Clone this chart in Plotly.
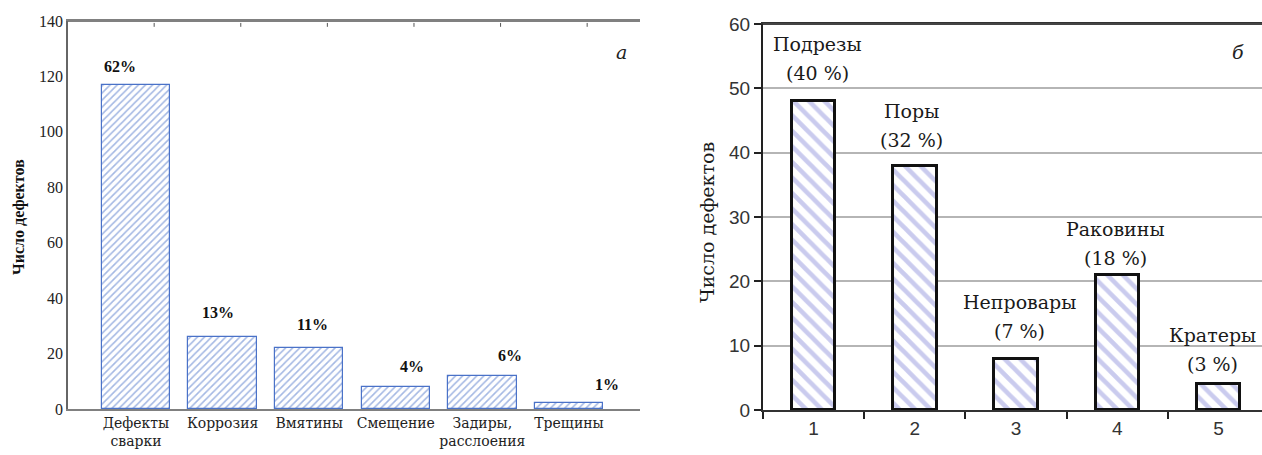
import plotly.graph_objects as go

# ---- Data: left chart (а) ----
cats_a = ["Дефекты<br>сварки", "Коррозия", "Вмятины", "Смещение", "Задиры,<br>расслоения", "Трещины"]
vals_a = [117, 26, 22, 8, 12, 2]
pct_a = ["62%", "13%", "11%", "4%", "6%", "1%"]

# ---- Data: right chart (б) ----
cats_b = ["1", "2", "3", "4", "5"]
vals_b = [48, 38, 8, 21, 4]
names_b = ["Подрезы", "Поры", "Непровары", "Раковины", "Кратеры"]
pct_b = ["(40 %)", "(32 %)", "(7 %)", "(18 %)", "(3 %)"]

# ---- label styling offsets (pixels) ----
dx_a = [-16, -5, 3, 16, 28, 38]
dy_a = [18, 24, 24, 20, 20, 19]
dx_b = [4, -3, 3, -2, -6]
dy_b = [28, 26, 28, 17, 20]

SERIF = "DejaVu Serif"
TIMES = "Liberation Serif"
SANS = "Liberation Sans"
BLUE = "#4a72c8"

W, H = 1262, 455
A_DOM_X = [68 / W, 640 / W]
A_DOM_Y = [46 / H, 434 / H]
B_DOM_X = [763 / W, 1.0]
B_DOM_Y = [45 / H, 431 / H]

fig = go.Figure()

fig.add_trace(go.Bar(
    x=list(range(len(vals_a))), y=vals_a, width=0.79,
    marker=dict(color="white", line=dict(color=BLUE, width=1.2),
                pattern=dict(shape="/", fgcolor=BLUE, bgcolor="white", size=5, solidity=0.32)),
    xaxis="x", yaxis="y", showlegend=False, hoverinfo="skip"))

fig.add_trace(go.Bar(
    x=cats_b, y=vals_b, width=0.43,
    marker=dict(color="white", line=dict(color="#111111", width=3),
                pattern=dict(shape="\\", fgcolor="#9598de", bgcolor="white", size=11, solidity=0.42)),
    xaxis="x2", yaxis="y2", showlegend=False, hoverinfo="skip"))

annotations = []
for i, (v, p) in enumerate(zip(vals_a, pct_a)):
    annotations.append(dict(x=i, y=v, xref="x", yref="y", text="<b>%s</b>" % p, showarrow=False,
                            xshift=dx_a[i], yshift=dy_a[i], xanchor="center", yanchor="middle",
                            font=dict(family=TIMES, size=16, color="#111")))
for i, (v, n, p) in enumerate(zip(vals_b, names_b, pct_b)):
    annotations.append(dict(x=i, y=v, xref="x2", yref="y2", text=p, showarrow=False,
                            xshift=dx_b[i], yshift=dy_b[i], xanchor="center", yanchor="middle",
                            font=dict(family=SERIF, size=19, color="#1a1a1a")))
    annotations.append(dict(x=i, y=v, xref="x2", yref="y2", text=n, showarrow=False,
                            xshift=dx_b[i], yshift=dy_b[i] + 29, xanchor="center", yanchor="middle",
                            font=dict(family=SERIF, size=19, color="#1a1a1a")))

annotations += [
    dict(x=19 / W, y=(H - 217) / H, xref="paper", yref="paper", text="<b>Число дефектов</b>",
         textangle=-90, showarrow=False, xanchor="center", yanchor="middle",
         font=dict(family=TIMES, size=16, color="#111")),
    dict(x=707 / W, y=(H - 222) / H, xref="paper", yref="paper", text="Число дефектов", textangle=-90,
         showarrow=False, xanchor="center", yanchor="middle",
         font=dict(family=SERIF, size=19, color="#1a1a1a")),
    dict(x=621 / W, y=(H - 52) / H, xref="paper", yref="paper", text="<i>а</i>",
         showarrow=False, xanchor="center", yanchor="middle", font=dict(family=SERIF, size=19, color="#222")),
    dict(x=1238 / W, y=(H - 52) / H, xref="paper", yref="paper", text="<i>б</i>",
         showarrow=False, xanchor="center", yanchor="middle", font=dict(family=SERIF, size=19, color="#222")),
]

# top frame lines (paper refs, drawn above) and small inner ticks on the left panel
shapes = [
    dict(type="line", xref="paper", yref="paper", layer="above",
         x0=A_DOM_X[0], x1=A_DOM_X[1], y0=A_DOM_Y[1], y1=A_DOM_Y[1],
         line=dict(color="#808080", width=2)),
    dict(type="line", xref="paper", yref="paper", layer="above",
         x0=B_DOM_X[0], x1=B_DOM_X[1], y0=B_DOM_Y[1], y1=B_DOM_Y[1],
         line=dict(color="#444444", width=2)),
]
for i in range(len(cats_a)):
    shapes.append(dict(type="line", xref="x", yref="y domain", layer="above",
                       x0=i + 0.21, x1=i + 0.21, y0=0.995, y1=0.985,
                       line=dict(color="#555", width=1)))

fig.update_layout(
    width=W, height=H, margin=dict(l=0, r=0, t=0, b=0, autoexpand=False),
    paper_bgcolor="white", plot_bgcolor="white",
    bargap=0,
    annotations=annotations,
    shapes=shapes,
    xaxis=dict(domain=A_DOM_X, range=[-0.785, 5.82], automargin=False,
               tickvals=list(range(len(cats_a))), ticktext=cats_a,
               tickfont=dict(family=SERIF, size=14, color="#222"),
               showline=True, mirror=True, linecolor="#808080", linewidth=1.8, ticks="", showgrid=False,
               zeroline=False, fixedrange=True),
    yaxis=dict(domain=A_DOM_Y, range=[0, 140], dtick=20, automargin=False,
               tickfont=dict(family=TIMES, size=16, color="#222"),
               showline=True, linecolor="#666", linewidth=1.5, showgrid=False, zeroline=False,
               ticks="", ticklen=0),
    xaxis2=dict(domain=B_DOM_X, range=[-0.5, 4.43], anchor="y2", type="category",
                automargin=False,
                tickson="boundaries", ticks="outside", ticklen=7, tickcolor="#222", tickwidth=2,
                tickfont=dict(family=SANS, size=19, color="#333"),
                showline=True, mirror=True, linecolor="#333", linewidth=2, showgrid=False, zeroline=False),
    yaxis2=dict(domain=B_DOM_Y, range=[0, 60], dtick=10, anchor="x2",
                automargin=False,
                tickfont=dict(family=SANS, size=19, color="#333"),
                ticks="outside", ticklen=7, tickcolor="#222", tickwidth=2,
                showline=True, linecolor="#222", linewidth=2,
                showgrid=True, gridcolor="#b5b5b5", gridwidth=2, zeroline=False),
)

fig.write_html("out.html", config={"displayModeBar": False},
               post_script="document.body.style.margin='0px';document.body.style.overflow='hidden';")
